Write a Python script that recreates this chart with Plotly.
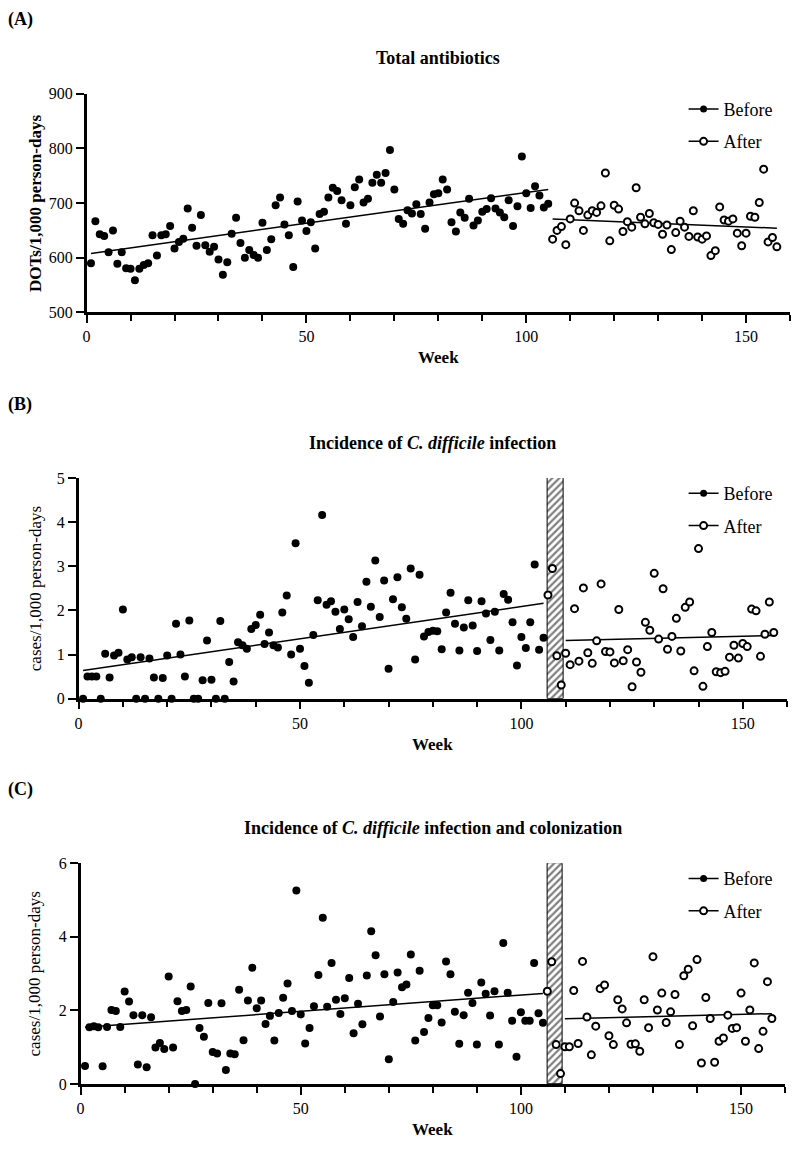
import plotly.graph_objects as go

W, H = 799, 1155
FONT = "Liberation Serif"

# ---------------- data ----------------
weeks_before = list(range(1, 106))
weeks_after = list(range(106, 158))

abx_before = [590, 667, 643, 640, 610, 650, 589, 610, 581, 580, 559, 580, 587, 590, 641, 604, 641, 643, 658, 617,
              629, 635, 690, 655, 622, 678, 623, 611, 620, 597, 569, 592, 644, 673, 627, 600, 614, 605, 600, 664,
              614, 634, 696, 710, 661, 641, 583, 703, 668, 649, 665, 617, 680, 684, 710, 728, 722, 705, 662, 696,
              729, 743, 701, 708, 737, 752, 737, 755, 797, 725, 671, 662, 687, 681, 698, 680, 653, 701, 716, 718,
              743, 725, 665, 648, 683, 673, 708, 659, 668, 684, 689, 709, 690, 683, 674, 705, 658, 694, 785, 718,
              691, 731, 714, 692, 699]
abx_after = [634, 650, 657, 624, 671, 700, 686, 650, 678, 686, 683, 695, 755, 631, 696, 689, 648, 666, 656, 728,
             674, 662, 681, 664, 661, 643, 660, 615, 646, 667, 656, 639, 686, 638, 634, 640, 604, 613, 693, 669,
             667, 671, 645, 622, 645, 676, 674, 701, 762, 629, 637, 620]

cdi_before = [0, 0.50, 0.50, 0.50, 0, 1.02, 0.48, 0.98, 1.04, 2.02, 0.89, 0.94, 0, 0.94, 0, 0.91, 0.48, 0, 0.47, 0.98,
              0, 1.70, 1.00, 0.50, 1.77, 0, 0, 0.42, 1.32, 0.43, 0, 1.76, 0, 0.83, 0.39, 1.28, 1.21, 1.13, 1.58, 1.67,
              1.90, 1.24, 1.50, 1.21, 1.16, 1.95, 2.34, 1.00, 3.52, 1.13, 0.74, 0.36, 1.44, 2.23, 4.16, 2.13, 2.21,
              1.97, 1.58, 2.02, 1.80, 1.40, 2.19, 1.64, 2.65, 2.08, 3.13, 1.85, 2.68, 0.68, 2.25, 2.75, 2.07, 1.81,
              2.95, 0.89, 2.81, 1.41, 1.51, 1.54, 1.53, 1.12, 1.95, 2.40, 1.70, 1.09, 1.61, 2.23, 1.66, 1.08, 2.21,
              1.93, 1.33, 1.97, 1.09, 2.37, 2.24, 1.73, 0.75, 1.40, 1.15, 1.73, 3.04, 1.11, 1.38]
cdi_after = [2.35, 2.95, 0.97, 0.31, 1.03, 0.77, 2.04, 0.85, 2.51, 1.04, 0.80, 1.31, 2.60, 1.07, 1.06, 0.81, 2.02,
             0.86, 1.11, 0.27, 0.83, 0.60, 1.73, 1.55, 2.84, 1.35, 2.49, 1.12, 1.41, 1.82, 1.08, 2.07, 2.19, 0.63,
             3.40, 0.28, 1.18, 1.50, 0.61, 0.59, 0.62, 0.94, 1.21, 0.92, 1.25, 1.18, 2.03, 1.99, 0.96, 1.46, 2.19, 1.50]

cdic_before = [0.49, 1.54, 1.57, 1.54, 0.48, 1.55, 2.01, 1.98, 1.55, 2.51, 2.24, 1.87, 0.53, 1.87, 0.45, 1.81, 0.99,
               1.11, 0.95, 2.92, 0.99, 2.25, 1.98, 2.01, 2.65, 0.0, 1.52, 1.28, 2.20, 0.87, 0.83, 2.19, 0.38, 0.83,
               0.81, 2.56, 1.19, 2.27, 3.16, 2.06, 2.27, 1.63, 1.85, 1.18, 1.93, 2.34, 2.73, 1.98, 5.26, 1.89, 1.10,
               1.52, 2.11, 2.96, 4.52, 2.10, 3.29, 2.29, 1.90, 2.33, 2.88, 1.38, 2.18, 1.62, 2.95, 4.15, 3.50, 1.83,
               2.98, 0.67, 2.23, 3.03, 2.63, 2.70, 3.52, 1.18, 3.08, 1.41, 1.79, 2.14, 2.14, 1.67, 3.33, 2.98, 1.96,
               1.09, 1.87, 2.48, 2.20, 1.07, 2.76, 2.45, 1.86, 2.52, 1.07, 3.83, 2.48, 1.72, 0.74, 1.95, 1.72, 1.72,
               3.29, 1.92, 1.66]
cdic_after = [2.52, 3.32, 1.07, 0.28, 1.01, 1.01, 2.54, 1.10, 3.33, 1.82, 0.79, 1.57, 2.59, 2.69, 1.31, 1.07, 2.29,
              2.04, 1.66, 1.08, 1.09, 0.89, 2.29, 1.53, 3.46, 2.01, 2.47, 1.67, 1.96, 2.43, 1.07, 2.94, 3.12, 1.58,
              3.38, 0.57, 2.35, 1.78, 0.59, 1.16, 1.25, 1.87, 1.51, 1.53, 2.47, 1.16, 2.01, 3.29, 0.96, 1.43, 2.78, 1.78]

# fitted trend lines (end points)
abx_fit_before_x, abx_fit_before_y = [1, 105], [608, 725]
abx_fit_after_x, abx_fit_after_y = [106, 157], [671, 654]
cdi_fit_before_x, cdi_fit_before_y = [1, 105], [0.64, 2.16]
cdi_fit_after_x, cdi_fit_after_y = [110, 157], [1.32, 1.43]
cdic_fit_before_x, cdic_fit_before_y = [1, 105], [1.54, 2.46]
cdic_fit_after_x, cdic_fit_after_y = [110, 157], [1.77, 1.91]

washout_x0, washout_x1 = 106, 109.5

x_ticks = [0, 50, 100, 150]
panel_letters = ["(A)", "(B)", "(C)"]
titles = ["<b>Total antibiotics</b>",
          "<b>Incidence of <i>C. difficile</i> infection</b>",
          "<b>Incidence of <i>C. difficile</i> infection and colonization</b>"]
y_titles = ["<b>DOTs/1,000 person-days</b>", "cases/1,000 person-days", "cases/1,000 person-days"]
y_ranges = [[500, 900], [0, 5], [0, 6]]
y_dticks = [100, 1, 2]

# ---------------- layout geometry (pixels) ----------------
panels = [
    dict(x0=83, x1=790, top=87, bottom=309),
    dict(x0=75, x1=787, top=477, bottom=701),
    dict(x0=77, x1=785, top=868, bottom=1092),
]


def px(x):
    return x / W


def py(y):
    return 1 - y / H


fig = go.Figure()

series = [
    (abx_before, abx_after, abx_fit_before_x, abx_fit_before_y, abx_fit_after_x, abx_fit_after_y, False),
    (cdi_before, cdi_after, cdi_fit_before_x, cdi_fit_before_y, cdi_fit_after_x, cdi_fit_after_y, True),
    (cdic_before, cdic_after, cdic_fit_before_x, cdic_fit_before_y, cdic_fit_after_x, cdic_fit_after_y, True),
]

annotations = []
for i, (yb, ya, fbx, fby, fax, fay, washout) in enumerate(series):
    sfx = "" if i == 0 else str(i + 1)
    xa, ya_ = "x" + sfx, "y" + sfx
    leg = "legend" + sfx
    if washout:
        fig.add_trace(go.Bar(
            x=[(washout_x0 + washout_x1) / 2], y=[y_ranges[i][1]], width=washout_x1 - washout_x0,
            marker=dict(color="white", line=dict(color="black", width=1),
                        pattern=dict(shape="/", fgcolor="black", bgcolor="white", size=5, solidity=0.45)),
            showlegend=False, hoverinfo="skip", xaxis=xa, yaxis=ya_))
    fig.add_trace(go.Scatter(x=fbx, y=fby, mode="lines", line=dict(color="black", width=1.5),
                             showlegend=False, xaxis=xa, yaxis=ya_))
    fig.add_trace(go.Scatter(x=fax, y=fay, mode="lines", line=dict(color="black", width=1.5),
                             showlegend=False, xaxis=xa, yaxis=ya_))
    fig.add_trace(go.Scatter(x=weeks_before, y=yb, mode="markers",
                             marker=dict(color="black", size=8, symbol="circle"),
                             cliponaxis=False, showlegend=False, xaxis=xa, yaxis=ya_))
    fig.add_trace(go.Scatter(x=weeks_after, y=ya, mode="markers",
                             marker=dict(color="white", size=7, symbol="circle",
                                         line=dict(color="black", width=2)),
                             cliponaxis=False, showlegend=False, xaxis=xa, yaxis=ya_))
    # legend entries
    fig.add_trace(go.Scatter(x=[None], y=[None], mode="lines+markers", name="Before",
                             line=dict(color="black", width=1.5),
                             marker=dict(color="black", size=7),
                             legend=leg, legendgroup="b" + sfx, xaxis=xa, yaxis=ya_))
    fig.add_trace(go.Scatter(x=[None], y=[None], mode="lines+markers", name="After",
                             line=dict(color="black", width=1.5),
                             marker=dict(color="white", size=7, line=dict(color="black", width=2)),
                             legend=leg, legendgroup="a" + sfx, xaxis=xa, yaxis=ya_))

    p = panels[i]
    axis_common = dict(showline=True, linecolor="black", linewidth=2.5, ticks="outside",
                       ticklen=8, tickwidth=2, tickcolor="black", showgrid=False, zeroline=False,
                       tickfont=dict(family=FONT, size=16, color="black"))
    fig.update_layout(**{
        "xaxis" + sfx: dict(domain=[px(p["x0"]), px(p["x1"])], range=[0, 160], anchor=ya_,
                            tickvals=x_ticks,
                            minor=dict(dtick=10, tick0=0, ticks="outside", ticklen=6, tickwidth=2,
                                       tickcolor="black", showgrid=False),
                            **axis_common),
        "yaxis" + sfx: dict(domain=[py(p["bottom"]), py(p["top"])], range=y_ranges[i], anchor=xa,
                            dtick=y_dticks[i], tick0=y_ranges[i][0], **axis_common),
        leg: dict(x=px(683), y=py(p["top"] - 3), xanchor="left", yanchor="top",
                  font=dict(family=FONT, size=18, color="black"), bgcolor="rgba(0,0,0,0)",
                  tracegroupgap=6, itemwidth=30),
    })

    annotations.append(dict(text="<b>" + panel_letters[i] + "</b>", x=px(2), y=py(p["top"] - 75),
                            xref="paper", yref="paper", xanchor="left", yanchor="middle", showarrow=False,
                            font=dict(family=FONT, size=18, color="black")))
    annotations.append(dict(text=titles[i], x=px((p["x0"] + p["x1"]) / 2), y=py(p["top"] - 36),
                            xref="paper", yref="paper", xanchor="center", yanchor="middle", showarrow=False,
                            font=dict(family=FONT, size=18, color="black")))
    annotations.append(dict(text=y_titles[i], x=px(31), y=py((p["top"] + p["bottom"]) / 2),
                            xref="paper", yref="paper", xanchor="center", yanchor="middle", showarrow=False,
                            textangle=-90, font=dict(family=FONT, size=17, color="black")))
    annotations.append(dict(text="<b>Week</b>", x=px((p["x0"] + p["x1"]) / 2), y=py(p["bottom"] + 46),
                            xref="paper", yref="paper", xanchor="center", yanchor="middle", showarrow=False,
                            font=dict(family=FONT, size=17, color="black")))

fig.update_layout(width=W, height=H, margin=dict(l=0, r=0, t=0, b=0),
                  paper_bgcolor="white", plot_bgcolor="white",
                  annotations=annotations, showlegend=True, bargap=0)

fig.write_html("out.html")
